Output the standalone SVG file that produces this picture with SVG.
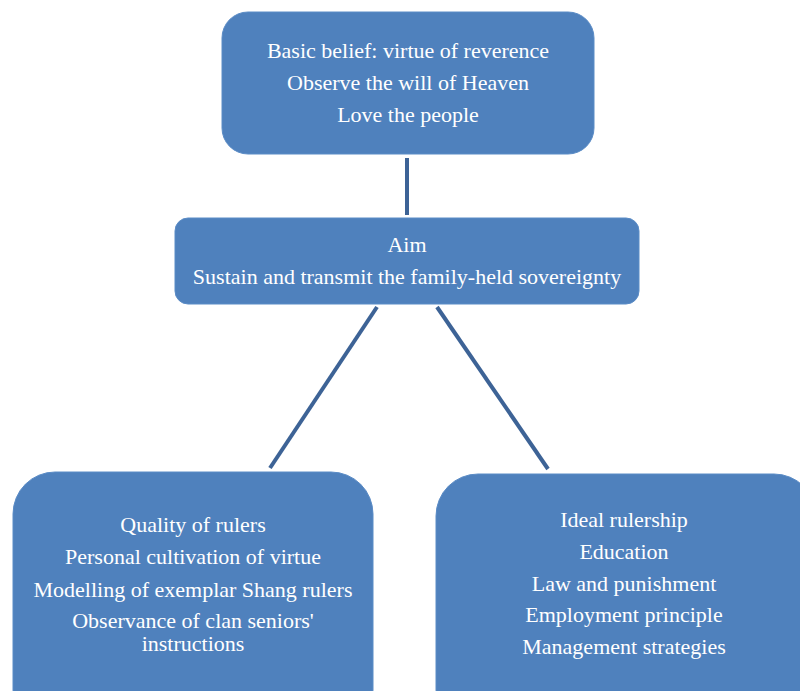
<svg xmlns="http://www.w3.org/2000/svg" width="800" height="691" viewBox="0 0 800 691">
<style>
.box{fill:#4f81bd;stroke:#5b8cc6;stroke-width:1}
.t{font-family:'Liberation Serif',serif;font-size:22px;fill:#ffffff;text-anchor:middle}
.c{stroke:#3d6396;stroke-width:4;fill:none}
</style>
<rect width="800" height="691" fill="#ffffff"/>
<g id="connectors">
<line class="c" x1="407" y1="158" x2="407" y2="215"/>
<line class="c" x1="377" y1="307" x2="270" y2="468"/>
<line class="c" x1="437" y1="307" x2="548" y2="469"/>
</g>
<g id="node-belief">
<rect class="box" x="222" y="12" width="372" height="142" rx="26"/>
<text class="t" x="408" y="58">Basic belief: virtue of reverence</text>
<text class="t" x="408" y="90">Observe the will of Heaven</text>
<text class="t" x="408" y="122">Love the people</text>
</g>
<g id="node-aim">
<rect class="box" x="175" y="218" width="464" height="86" rx="13"/>
<text class="t" x="407" y="252">Aim</text>
<text class="t" x="407" y="284">Sustain and transmit the family-held sovereignty</text>
</g>
<g id="node-quality">
<rect class="box" x="13" y="472" width="360" height="260" rx="42"/>
<text class="t" x="193" y="532">Quality of rulers</text>
<text class="t" x="193" y="564">Personal cultivation of virtue</text>
<text class="t" x="193" y="597">Modelling of exemplar Shang rulers</text>
<text class="t" x="193" y="628">Observance of clan seniors'</text>
<text class="t" x="193" y="651">instructions</text>
</g>
<g id="node-rulership">
<rect class="box" x="436" y="474" width="380" height="258" rx="42"/>
<text class="t" x="624" y="527">Ideal rulership</text>
<text class="t" x="624" y="559">Education</text>
<text class="t" x="624" y="591">Law and punishment</text>
<text class="t" x="624" y="622">Employment principle</text>
<text class="t" x="624" y="654">Management strategies</text>
</g>
</svg>
